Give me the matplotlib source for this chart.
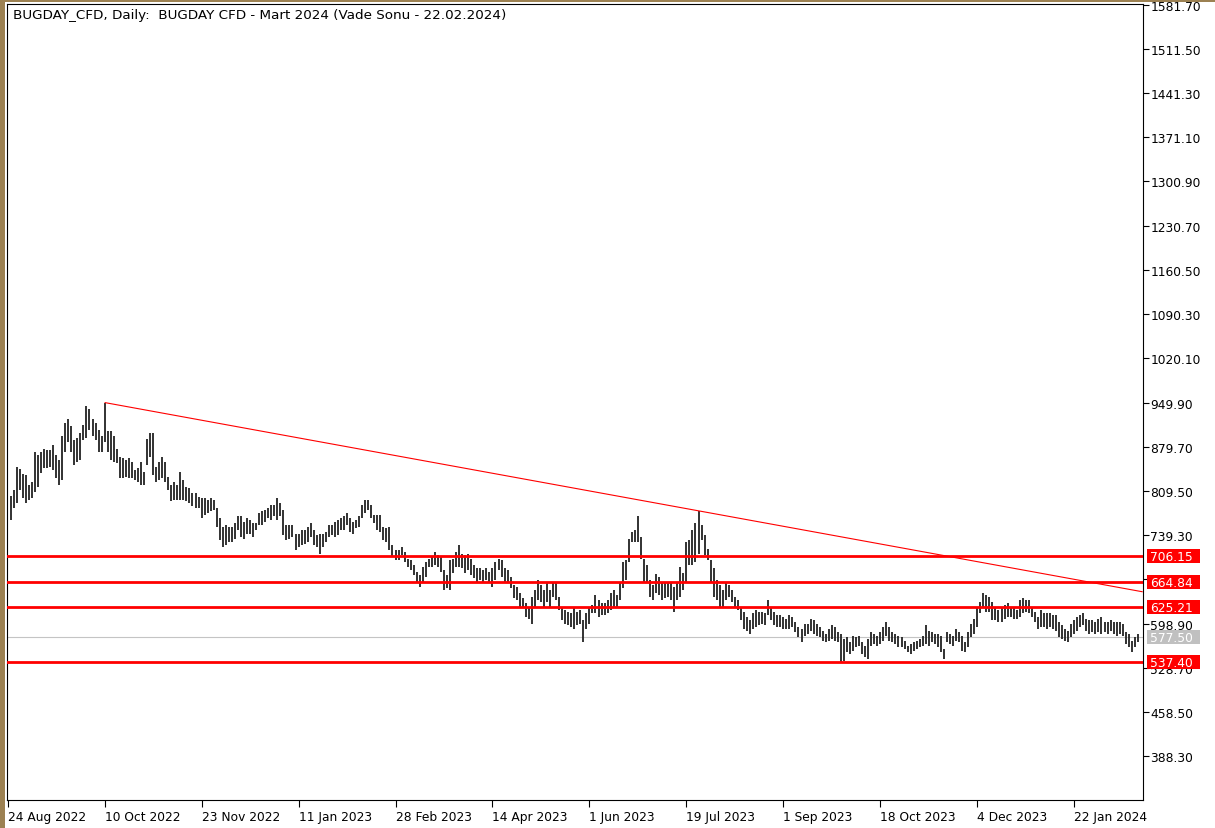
import matplotlib
matplotlib.use("Agg")
import matplotlib.pyplot as plt
from matplotlib.patches import Rectangle
import numpy as np

plt.rcParams['font.family'] = ['DejaVu Sans']

# ---------------- data ----------------
title = "BUGDAY_CFD, Daily:  BUGDAY CFD - Mart 2024 (Vade Sonu - 22.02.2024)"

# daily bar highs / lows, Aug 2022 .. Feb 2024
bar_high = [
    801, 811, 847, 845, 837, 835, 819, 824, 872, 867, 872, 876, 875, 874, 883, 867,
    859, 896, 917, 923, 912, 891, 893, 901, 915, 944, 939, 924, 917, 907, 896, 949.9,
    904, 904, 896, 876, 864, 862, 859, 862, 856, 843, 846, 856, 839, 892, 902, 901,
    847, 856, 864, 856, 832, 819, 824, 819, 840, 827, 816, 815, 806, 806, 800, 798,
    798, 795, 798, 795, 782,
    766, 753, 755, 753, 753, 758, 769, 769, 761, 766, 763, 758, 758, 774, 777, 779,
    782, 787, 787, 798, 790, 779, 755, 755, 755, 742, 742, 747, 747, 753, 758, 747,
    739, 742, 742, 745, 755, 755, 761, 763, 766, 769, 774, 766, 761, 763, 769, 787,
    795, 795, 787, 771, 771, 771, 753, 750, 753, 724, 716, 716,
    721, 713, 702, 700, 692, 681, 676, 689, 697, 702, 705, 713, 708, 705, 684, 676,
    700, 702, 713, 724, 710, 708, 710, 702, 692, 687, 687, 684, 687, 681, 687, 697,
    702, 700, 687, 684, 673, 660, 657, 647, 639, 631, 625, 641, 652, 668, 660, 652,
    663, 652, 663, 663, 641, 625, 620, 617, 615, 623, 617, 620, 604, 615, 625, 628,
    644, 636, 631, 631, 636, 647, 652, 644, 665, 697, 700, 734, 745, 747, 769, 737,
    702, 692, 668, 660, 678, 673, 665, 663, 665, 663, 657, 665, 689, 679, 729, 732,
    747, 758, 777, 755, 740, 718, 700, 687, 668, 660, 652, 663, 660, 652, 641, 636,
    625, 617, 610, 604, 615, 620, 617, 617, 615, 636, 623, 617, 612, 612, 610, 607,
    612, 610, 602, 594,
    591, 599, 599, 607, 604, 599, 594, 588, 583, 591, 596, 594, 586, 583, 575, 578,
    570, 580, 578, 580, 570, 564, 575, 586, 583, 580, 586, 594, 602, 594, 586, 583,
    580, 578, 572, 564, 567, 570, 572, 575, 580, 596, 588, 586, 583, 583, 580, 559,
    586, 583, 580, 591, 586, 580, 570, 586, 599, 607, 623, 633, 647, 644, 641, 633,
    625, 620, 623, 628, 631, 625, 623, 620, 636, 639, 636, 636, 625, 617, 610, 620,
    615, 615, 615, 612, 612, 602, 596, 591, 588, 599, 604, 610, 612, 615, 607, 604,
    604, 602, 607, 610, 602, 602, 604, 602, 602, 602, 599, 586, 583, 572, 578, 583,
]
bar_low = [
    763, 782, 790, 811, 798, 790, 795, 798, 808, 816, 838, 846, 846, 848, 843, 830,
    819, 827, 872, 888, 872, 851, 856, 859, 891, 893, 907, 896, 891, 872, 872, 888,
    872, 859, 856, 854, 830, 830, 831, 830, 830, 827, 824, 819, 819, 851, 864, 835,
    824, 827, 830, 824, 811, 793, 795, 795, 795, 795, 793, 790, 785, 782, 782, 766,
    771, 774, 777, 779, 753,
    731, 721, 724, 729, 729, 734, 747, 737, 734, 742, 742, 737, 747, 755, 755, 761,
    766, 763, 769, 763, 769, 739, 731, 734, 737, 716, 721, 724, 726, 729, 737, 724,
    721, 710, 721, 729, 737, 739, 737, 739, 747, 747, 755, 745, 742, 750, 753, 766,
    774, 779, 766, 758, 747, 745, 731, 729, 716, 705, 700, 700,
    708, 697, 689, 684, 676, 663, 657, 663, 673, 689, 689, 692, 689, 681, 652, 655,
    652, 679, 689, 689, 687, 679, 684, 676, 671, 665, 668, 665, 668, 663, 657, 668,
    684, 673, 665, 665, 655, 639, 636, 625, 623, 610, 607, 599, 625, 636, 633, 625,
    633, 625, 641, 636, 620, 604, 599, 596, 594, 591, 596, 599, 570, 591, 599, 615,
    615, 610, 612, 612, 615, 620, 625, 623, 636, 655, 668, 697, 729, 729, 729, 702,
    665, 665, 641, 636, 647, 644, 636, 639, 641, 636, 617, 636, 641, 652, 665, 692,
    692, 697, 710, 732, 708, 700, 663, 641, 636, 625, 625, 636, 641, 633, 625, 620,
    604, 591, 588, 583, 591, 594, 596, 599, 596, 612, 604, 596, 594, 594, 591, 591,
    591, 594, 586, 578,
    570, 580, 583, 588, 583, 580, 578, 572, 570, 572, 575, 572, 570, 538, 540, 554,
    551, 556, 562, 564, 551, 546, 543, 564, 567, 564, 567, 572, 580, 572, 570, 567,
    562, 562, 559, 554, 551, 556, 559, 562, 564, 567, 564, 570, 567, 562, 554, 543,
    570, 567, 564, 572, 570, 556, 554, 562, 578, 583, 594, 615, 625, 617, 617, 604,
    604, 602, 602, 607, 610, 610, 607, 607, 610, 615, 617, 615, 610, 602, 591, 594,
    594, 591, 594, 591, 588, 578, 575, 572, 570, 578, 583, 588, 594, 596, 588, 583,
    586, 583, 586, 583, 586, 583, 588, 583, 580, 583, 580, 567, 562, 554, 562, 570,
]

date_labels = ['24 Aug 2022', '10 Oct 2022', '23 Nov 2022', '11 Jan 2023',
               '28 Feb 2023', '14 Apr 2023', '1 Jun 2023', '19 Jul 2023',
               '1 Sep 2023', '18 Oct 2023', '4 Dec 2023', '22 Jan 2024']
date_bars = [-1, 31, 63, 95, 127, 159, 191, 223, 255, 287, 319, 351]

price_ticks = [1581.70, 1511.50, 1441.30, 1371.10, 1300.90, 1230.70, 1160.50,
               1090.30, 1020.10, 949.90, 879.70, 809.50, 739.30, 669.10, 598.90,
               528.70, 458.50, 388.30]

levels = [706.15, 664.84, 625.21, 537.40]
last_price = 577.50
trend_points = [(31, 949.9), (227, 778.0)]

# ---------------- figure ----------------
W, H = 1215, 829
fig = plt.figure(figsize=(W / 100, H / 100), dpi=100)
fig.patch.set_facecolor('white')

ax_l, ax_r, ax_t, ax_b = 7.3, 1142.7, 5.0, 800.7
ax = fig.add_axes([ax_l / W, (H - ax_b) / H, (ax_r - ax_l) / W, (ax_b - ax_t) / H])
ax.set_facecolor('white')

# frame decoration (terminal window border)
fig.patches.append(Rectangle((0, 0), 4.5 / W, 1, transform=fig.transFigure,
                             facecolor='#9c8152', edgecolor='none', zorder=0))
fig.patches.append(Rectangle((0, 1 - 2.5 / H), 1, 2.5 / H, transform=fig.transFigure,
                             facecolor='#9c8152', edgecolor='none', zorder=0))

x = np.arange(len(bar_high))
ax.vlines(x, bar_low, bar_high, colors='#222222', linewidth=1.3, zorder=3)

# horizontal support / resistance levels
for lv in levels:
    ax.axhline(lv, color='#ff0000', linewidth=2.0, zorder=4)
ax.axhline(last_price, color='#c4c4c4', linewidth=0.8, zorder=2)

# trend line from the Oct 2022 high through the Jul 2023 high, extended right
(x0, y0), (x1, y1) = trend_points
xmin, xmax = -1.12, 373.6
slope = (y1 - y0) / (x1 - x0)
ax.plot([x0, xmax], [y0, y0 + slope * (xmax - x0)], color='#ff0000',
        linewidth=0.8, zorder=4, solid_capstyle='butt')

ax.set_xlim(xmin, xmax)
ax.set_ylim(319.4, 1582.6)

# axes styling
for s in ax.spines.values():
    s.set_linewidth(0.8)
    s.set_color('black')

ax.yaxis.tick_right()
ax.set_yticks(price_ticks)
ax.set_yticklabels([f'{v:.2f}' for v in price_ticks])
ax.tick_params(axis='y', direction='out', length=4, width=0.8, pad=1.5,
               labelsize=8.8, colors='black')

ax.set_xticks(date_bars)
ax.set_xticklabels(date_labels)
ax.tick_params(axis='x', direction='out', length=5, width=0.8, pad=2.5,
               labelsize=8.8, colors='black')
for lbl in ax.get_xticklabels():
    lbl.set_ha('left')

# right-axis price boxes
ytr = ax.get_yaxis_transform()
box_x = (1146.5 - ax_l) / (ax_r - ax_l)
box_w = 53.0 / (ax_r - ax_l)
txt_x = (1150.0 - ax_l) / (ax_r - ax_l)
half_h = 7.0 * (1582.6 - 319.4) / (ax_b - ax_t)

def price_box(val, face):
    ax.add_patch(Rectangle((box_x, val - half_h), box_w, 2 * half_h, transform=ytr,
                           facecolor=face, edgecolor='none', clip_on=False, zorder=6))
    ax.text(txt_x, val, f'{val:.2f}', transform=ytr, color='white', fontsize=8.8,
            ha='left', va='center', zorder=7, clip_on=False)

for lv in levels:
    price_box(lv, '#ff0000')
price_box(last_price, '#c0c0c0')

fig.text(13 / W, 1 - 15.5 / H, title, ha='left', va='center', fontsize=9.7,
         color='black')

fig.savefig('out.png', dpi=100, facecolor='white')
